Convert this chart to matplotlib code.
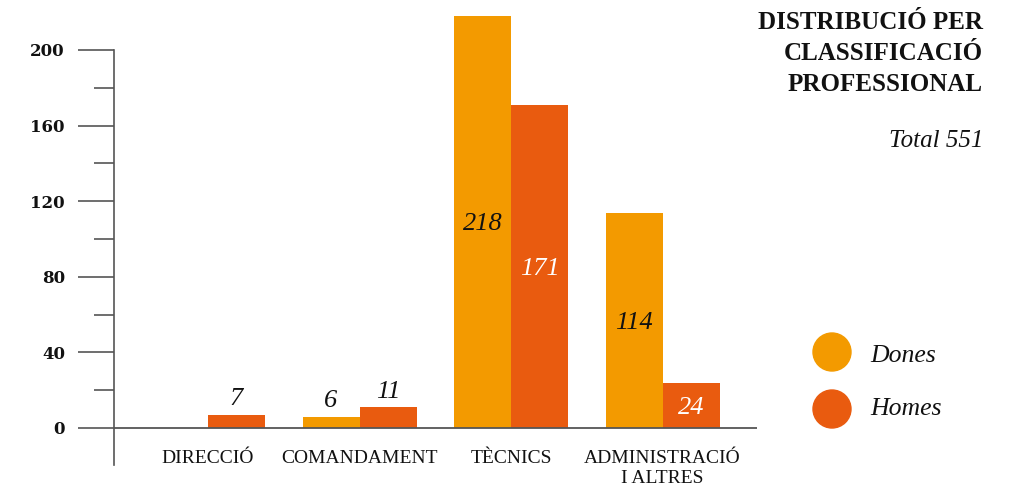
import matplotlib.pyplot as plt
from matplotlib.patches import Ellipse
import numpy as np

# data
categories = [['DIRECCIÓ'], ['COMANDAMENT'], ['TÈCNICS'], ['ADMINISTRACIÓ', 'I ALTRES']]
dones = [0, 6, 218, 114]
homes = [7, 11, 171, 24]
series_names = ['Dones', 'Homes']
title_lines = ['DISTRIBUCIÓ PER', 'CLASSIFICACIÓ', 'PROFESSIONAL']
total = 551

c_dones = '#F39A00'
c_homes = '#E95B0F'
axis_col = '#555555'
ink = '#111111'
serif = ['Liberation Serif', 'DejaVu Serif']

fig = plt.figure(figsize=(10.31, 4.91), dpi=100)
W, H = 1031, 491
# axes spans spine x=113.5 .. 757, y: 465 (bottom) .. 16 (top)
ax = fig.add_axes([113.5 / W, (H - 465) / H, (757 - 113.5) / W, (465 - 16) / H])
px_per_unit = (428 - 50) / 200.0
ax.set_ylim(-(465 - 428) / px_per_unit, (428 - 16) / px_per_unit)
step = 151.5
ax.set_xlim((113.5 - 208) / step, (757 - 208) / step)


def py(pix):
    # pixel row -> data y
    return (428 - pix) / px_per_unit


x = np.arange(len(categories))
w = 57 / step
ax.bar(x - w / 2, dones, width=w, color=c_dones, zorder=2)
ax.bar(x + w / 2, homes, width=w, color=c_homes, zorder=2)

# value labels
for xs, vals, inside_col in [(x - w / 2, dones, ink), (x + w / 2, homes, 'white')]:
    for xi, v in zip(xs, vals):
        if v == 0:
            continue
        if v > 20:
            ax.text(xi, v / 2, str(v), ha='center', va='center_baseline', fontsize=19,
                    style='italic', family=serif, color=inside_col, zorder=3)
        else:
            ax.text(xi, v + 5, str(v), ha='center', va='baseline', fontsize=19,
                    style='italic', family=serif, color=ink, zorder=3)

# axes styling
for s in ['top', 'right', 'bottom']:
    ax.spines[s].set_visible(False)
ax.spines['left'].set_color(axis_col)
ax.spines['left'].set_linewidth(1.2)
ax.spines['left'].set_bounds(ax.get_ylim()[0], 200)
ax.axhline(0, color=axis_col, lw=1.3, zorder=4)

# tick lengths in points (36px and 20px at 100 dpi)
ax.set_yticks(np.arange(0, 201, 40))
ax.set_yticks(np.arange(20, 200, 40), minor=True)
ax.tick_params(axis='y', which='major', length=26, width=1.2, color=axis_col, pad=9)
ax.tick_params(axis='y', which='minor', length=14.4, width=1.2, color=axis_col)
for lab in ax.get_yticklabels():
    lab.set_family(['DejaVu Serif'])
    lab.set_fontweight('bold')
    lab.set_fontsize(12)
    lab.set_color(ink)

# category labels, drawn line by line below the baseline
ax.set_xticks([])
for xi, lines in zip(x, categories):
    for k, line in enumerate(lines):
        ax.text(xi, py(463 + 20 * k), line, ha='center', va='baseline',
                family=serif, fontsize=14, color=ink, clip_on=False)

# title
for k, line in enumerate(title_lines):
    fig.text(983 / W, 1 - (29 + 31 * k) / H, line, ha='right', va='baseline',
             family=serif, fontweight='bold', fontsize=18, color=ink)
fig.text(983 / W, 1 - 147 / H, f'Total {total}', ha='right', va='baseline',
         family=serif, style='italic', fontsize=18, color=ink)

# legend
for name, col, yc, yb in zip(series_names, [c_dones, c_homes], [352, 409], [362, 415]):
    fig.patches.append(Ellipse((832 / W, 1 - yc / H), 38 / W, 38 / H, color=col,
                               transform=fig.transFigure))
    fig.text(870 / W, 1 - yb / H, name, ha='left', va='baseline', family=serif,
             style='italic', fontsize=18.5, color=ink)

fig.savefig('out.png', dpi=100)
